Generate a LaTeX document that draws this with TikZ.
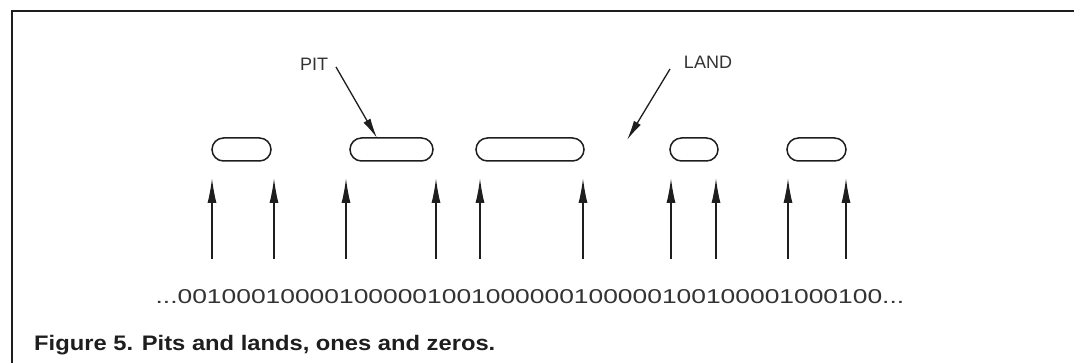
\documentclass[tikz,border=0pt]{standalone}
\usepackage{fontspec}
\setmainfont{Liberation Sans}
\usetikzlibrary{shapes.misc,arrows.meta}
\definecolor{ink}{HTML}{1E1E1E}
\definecolor{txt}{HTML}{333333}
\tikzset{
  pit/.style={draw=ink, line width=1.5pt, rounded rectangle, minimum height=23pt, inner sep=0pt},
  readarrow/.style={draw=ink, line width=1.5pt, -{Latex[length=25pt,width=9pt]}},
  callout/.style={draw=ink, line width=1.3pt, -{Latex[length=20pt,width=8pt]}},
  lbl/.style={text=txt, font=\fontsize{18}{20}\selectfont, inner sep=0pt},
  frame/.style={draw=ink, line width=1.8pt}
}
\begin{document}
\begin{tikzpicture}[x=1pt,y=-1pt]
\useasboundingbox (0,0) rectangle (1074,363);
\fill[white] (0,0) rectangle (1074,363);
% frame
\coordinate (fb) at (12,363);
\coordinate (fc) at (12,11);
\coordinate (fr) at (1074,11);
\draw[frame] (fb) -- (fc) -- (fr);
% pits
\node[pit, minimum width=59pt] (p1) at (241.5,149.5) {};
\node[pit, minimum width=83pt] (p2) at (391.5,149.5) {};
\node[pit, minimum width=108pt] (p3) at (530,149.5) {};
\node[pit, minimum width=48pt] (p4) at (694,149.5) {};
\node[pit, minimum width=59pt] (p5) at (816.5,149.5) {};
% labels
\node[lbl] (pit) at (314,64) {PIT};
\node[lbl] (land) at (708,62) {LAND};
\coordinate (pitS) at (336,67);
\coordinate (pitE) at (377,138);
\coordinate (landS) at (670,69);
\coordinate (landE) at (627,140);
\draw[callout] (pitS) -- (pitE);
\draw[callout] (landS) -- (landE);
% read arrows
\foreach \i/\x in {1/212,2/274,3/346,4/436,5/480,6/583,7/671,8/716,9/788,10/846}{
  \coordinate (b\i) at (\x,259);
  \coordinate (t\i) at (\x,178);
  \draw[readarrow] (b\i) -- (t\i);
}
% bit string
\node[text=txt, font=\fontsize{20}{24}\selectfont, inner sep=0pt, xscale=1.32] (bits) at (530,297) {...001000100001000001001000000100000100100001000100...};
% caption
\node[text=ink, font=\fontsize{21}{24}\selectfont\bfseries, inner sep=0pt, anchor=west, xscale=1.13] (cap) at (34,345) {Figure 5. Pits and lands, ones and zeros.};
\end{tikzpicture}
\end{document}
